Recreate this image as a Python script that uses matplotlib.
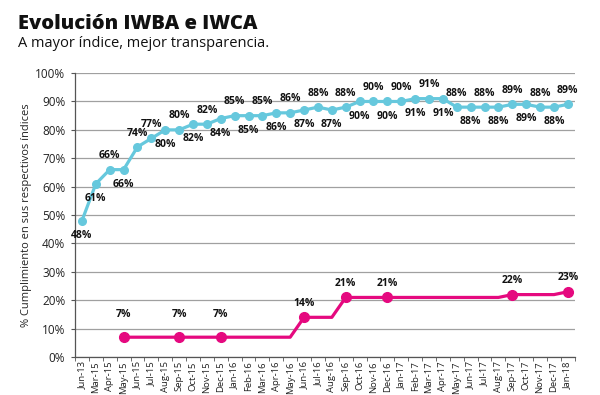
import numpy as np
import matplotlib
matplotlib.use('Agg')
import matplotlib.pyplot as plt

plt.rcParams['font.family'] = ['Open Sans', 'DejaVu Sans']

months = ['Jun-13', 'Mar-15', 'Apr-15', 'May-15', 'Jun-15', 'Jul-15', 'Aug-15', 'Sep-15',
          'Oct-15', 'Nov-15', 'Dec-15', 'Jan-16', 'Feb-16', 'Mar-16', 'Apr-16', 'May-16',
          'Jun-16', 'Jul-16', 'Aug-16', 'Sep-16', 'Oct-16', 'Nov-16', 'Dec-16', 'Jan-17',
          'Feb-17', 'Mar-17', 'Apr-17', 'May-17', 'Jun-17', 'Jul-17', 'Aug-17', 'Sep-17',
          'Oct-17', 'Nov-17', 'Dec-17', 'Jan-18']

iwba = [48, 61, 66, 66, 74, 77, 80, 80, 82, 82, 84, 85, 85, 85, 86, 86, 87, 88,
        87, 88, 90, 90, 90, 90, 91, 91, 91, 88, 88, 88, 88, 89, 89, 88, 88, 89]
# a = label above the point, b = below
iwba_label_side = ['b', 'b', 'a', 'b', 'a', 'a', 'b', 'a', 'b', 'a', 'b', 'a', 'b', 'a', 'b', 'a', 'b', 'a',
                   'b', 'a', 'b', 'a', 'b', 'a', 'b', 'a', 'b', 'a', 'b', 'a', 'b', 'a', 'b', 'a', 'b', 'a']

iwca = [np.nan, np.nan, np.nan, 7, 7, 7, 7, 7, 7, 7, 7, 7, 7, 7, 7, 7,
        14, 14, 14, 21, 21, 21, 21, 21, 21, 21, 21, 21, 21, 21, 21, 22,
        22, 22, 22, 23]
iwca_marked = ['May-15', 'Sep-15', 'Dec-15', 'Jun-16', 'Sep-16', 'Dec-16', 'Sep-17', 'Jan-18']

cyan = '#66c8dd'
pink = '#e5097f'

fig = plt.figure(figsize=(6, 3.95), dpi=100)
ax = fig.add_axes([0.125, 0.096, 0.833, 0.719])

x = np.arange(len(months))
ax.plot(x, iwba, color=cyan, lw=2.3, marker='o', ms=5.5, zorder=3)
for xi, v, side in zip(x, iwba, iwba_label_side):
    off = 10 if side == 'a' else -10.5
    ax.annotate(f'{v}%', (xi, v), xytext=(0, off), textcoords='offset points',
                ha='center', va='center', fontsize=7.5, fontweight='bold', color='#111111')

ax.plot(x, iwca, color=pink, lw=2.3, zorder=3)
mk = [months.index(m) for m in iwca_marked]
ax.plot(mk, [iwca[i] for i in mk], ls='none', marker='o', color=pink, ms=7, zorder=4)
for i in mk:
    # the first (7%) labels sit a bit higher in the original
    off = 16 if i < 12 else 10
    ax.annotate(f'{iwca[i]}%', (i, iwca[i]), xytext=(0, off), textcoords='offset points',
                ha='center', va='center', fontsize=7.5, fontweight='bold', color='#111111')

ax.set_xlim(-0.5, len(months) - 0.5)
ax.set_ylim(0, 100)
ax.set_yticks(np.arange(0, 101, 10))
ax.set_yticklabels([f'{t}%' for t in range(0, 101, 10)], fontsize=8.5, color='#222222')
ax.yaxis.grid(True, color='#a0a0a0', lw=0.9)
ax.set_axisbelow(True)

ax.set_xticks(x)
ax.set_xticklabels(months, rotation=90, fontsize=6.8, color='#222222')
ax.set_xticks(np.arange(-0.5, len(months), 1), minor=True)
ax.tick_params(axis='x', which='major', length=0, pad=3)
ax.tick_params(axis='x', which='minor', length=3, color='#555555')
ax.tick_params(axis='y', length=3, color='#555555', pad=4)

for s in ['top', 'right']:
    ax.spines[s].set_visible(False)
for s in ['left', 'bottom']:
    ax.spines[s].set_color('#555555')
    ax.spines[s].set_linewidth(0.9)

ax.set_ylabel('% Cumplimiento en sus respectivos índices', fontsize=8, color='#222222', labelpad=2)

fig.text(0.03, 0.938, 'Evolución IWBA e IWCA', fontsize=14.5, fontweight='heavy',
         color='#111111', va='center')
fig.text(0.03, 0.89, 'A mayor índice, mejor transparencia.', fontsize=10.5,
         color='#111111', va='center')

fig.savefig('out.png', dpi=100)
